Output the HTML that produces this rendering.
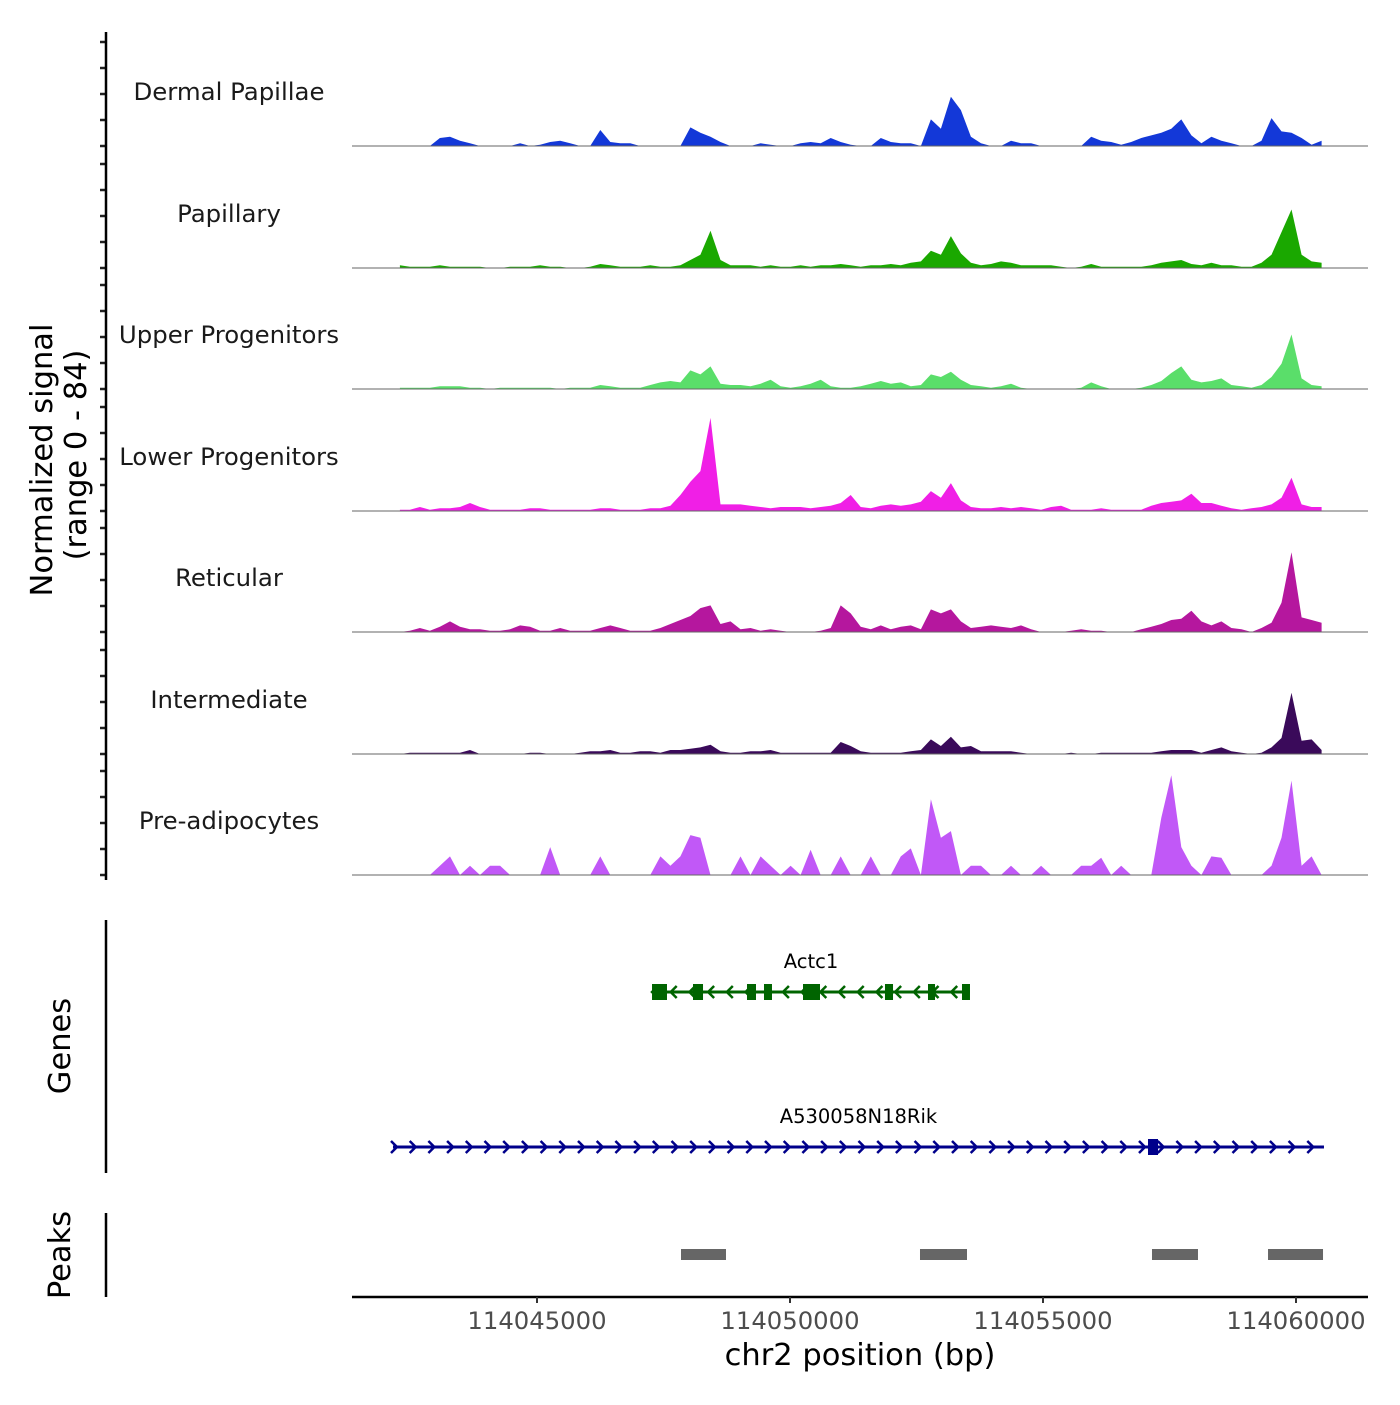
<!DOCTYPE html>
<html><head><meta charset="utf-8"><style>
html,body{margin:0;padding:0;background:#fff;}
svg text{font-family:"DejaVu Sans","Liberation Sans",sans-serif;}
</style></head><body>
<svg id="chart" xmlns="http://www.w3.org/2000/svg" width="1400" height="1400" viewBox="0 0 1400 1400">
<rect width="1400" height="1400" fill="#fff"/>
<g id="tracks"></g>
<g id="genes"></g>
<g id="peaks"></g>
<g id="axes"></g>
<text transform="translate(52,460) rotate(-90)" text-anchor="middle" font-size="30.5" fill="#000">Normalized signal</text>
<text transform="translate(86,455) rotate(-90)" text-anchor="middle" font-size="30.5" fill="#000">(range 0 - 84)</text>
<text transform="translate(70,1046) rotate(-90)" text-anchor="middle" font-size="30.5" fill="#000">Genes</text>
<text transform="translate(70,1255) rotate(-90)" text-anchor="middle" font-size="30.5" fill="#000">Peaks</text>
<text x="860" y="1365" text-anchor="middle" font-size="30.5" fill="#000">chr2 position (bp)</text>
</svg>
<script>
const trackNames = ["Dermal Papillae","Papillary","Upper Progenitors","Lower Progenitors","Reticular","Intermediate","Pre-adipocytes"];
const binStartBp = 114042290;
const binSizeBp = 198;
const dermalPapillae = [0,0,0,0,6,7,4,2,0,0,0,0,2,0,1,3,4,2,0,0,12,3,2,2,0,0,0,0,0,14,10,7,3,0,0,0,2,1,0,0,2,3,2,6,3,1,0,0,6,3,2,2,0,20,13,37,27,7,2,0,0,4,2,2,0,0,0,0,0,7,4,3,1,3,6,8,10,13,20,8,2,7,4,2,0,0,4,21,11,10,6,1,4];
const papillary = [2,1,1,1,2,1,1,1,1,0,0,1,1,1,2,1,1,0,0,1,3,2,1,1,1,2,1,1,2,6,10,28,6,2,2,2,1,2,1,1,2,1,2,2,3,2,1,2,2,3,2,4,5,13,10,24,11,4,2,3,5,4,2,2,2,2,1,0,1,3,1,1,1,1,1,2,4,5,6,3,2,4,2,2,1,1,4,10,27,44,10,5,4];
const upperProgenitors = [1,1,1,1,2,2,2,1,1,0,1,1,1,1,1,1,0,1,1,1,3,2,1,1,1,3,5,6,5,14,11,17,4,3,3,2,4,7,2,1,2,4,7,2,1,1,2,4,6,4,5,2,3,11,9,13,7,3,2,1,2,4,1,0,0,0,0,0,1,5,2,0,0,0,1,3,6,12,17,7,5,6,8,3,2,1,3,9,19,41,8,3,2];
const lowerProgenitors = [1,1,3,1,2,2,3,6,3,1,1,1,1,2,2,1,1,1,1,1,2,2,1,1,1,2,2,4,12,22,30,70,5,5,5,4,3,2,3,3,3,2,3,4,6,12,3,2,4,5,4,5,7,15,10,21,8,3,2,2,3,2,3,2,1,3,4,1,1,1,2,1,1,1,1,4,6,7,8,13,6,6,4,2,1,2,3,5,10,25,5,3,3];
const reticular = [0,1,3,1,4,8,4,2,2,1,1,2,5,4,1,1,3,1,1,1,3,5,3,1,1,1,3,6,9,12,18,20,6,8,2,3,1,2,1,0,0,0,1,3,20,14,4,2,5,2,4,5,2,17,14,17,8,3,4,5,4,3,5,2,0,0,0,1,2,1,1,0,0,0,2,4,6,9,10,16,8,5,8,3,2,0,3,7,22,60,11,9,7];
const intermediate = [0,1,1,1,1,1,1,3,0,0,0,0,0,1,1,0,0,0,1,2,2,3,1,1,2,2,1,3,3,4,5,7,2,1,1,2,2,3,1,1,1,1,1,1,9,6,2,1,1,1,1,2,3,11,6,13,5,6,2,2,2,2,1,0,0,0,0,1,0,0,1,1,1,1,1,1,2,3,3,3,1,3,5,2,1,0,1,5,12,46,10,11,3];
const preAdipocytes = [0,0,0,0,7,14,0,7,0,7,7,0,0,0,0,21,0,0,0,0,14,0,0,0,0,0,14,7,14,30,28,0,0,0,14,0,14,7,0,7,0,19,0,0,14,0,0,14,0,0,14,20,0,57,28,33,0,7,7,0,0,7,0,0,7,0,0,0,7,7,13,0,7,0,0,0,43,75,21,7,0,14,13,0,0,0,0,7,28,71,7,14,0];
const yTicks = [0,20,40,60,80];
const xTicks = [114045000,114050000,114055000,114060000];
const actc1Exons = [[114047273,114047569],[114048083,114048281],[114049150,114049328],[114049486,114049644],[114050257,114050593],[114051877,114052036],[114052727,114052866],[114053399,114053557]];
const actc1Span = [114047273,114053557];
const rikSpan = [114042154,114060553];
const rikExons = [[114057075,114057273]];
const peakRegions = [[114047846,114048735],[114052569,114053498],[114057154,114058063],[114059447,114060534]];

const NS = "http://www.w3.org/2000/svg";
function mk(tag, attrs, parent){const e=document.createElementNS(NS,tag);for(const k in attrs)e.setAttribute(k,attrs[k]);parent.appendChild(e);return e;}
const xPos = bp => 537 + (bp - 114045000) * 0.0506;
const baselines = [146,268,389,511,632,754,875];
const yUnit = 1.33;
const colors = ["#1338d8","#1aa800","#5ade6a","#f01fe6","#b5179e","#3a0a5a","#c158f7"];
const series = [dermalPapillae,papillary,upperProgenitors,lowerProgenitors,reticular,intermediate,preAdipocytes];
const tracksG = document.getElementById('tracks');
const axesG = document.getElementById('axes');

series.forEach((vals, t) => {
  const base = baselines[t];
  const g = mk('g', {}, tracksG);
  
  
  let d = 'M' + xPos(binStartBp).toFixed(1) + ',' + base;
  vals.forEach((v, i) => {
    d += ' L' + xPos(binStartBp + i*binSizeBp).toFixed(1) + ',' + (base - v*yUnit).toFixed(1);
  });
  d += ' L' + xPos(binStartBp + (vals.length-1)*binSizeBp).toFixed(1) + ',' + base + ' Z';
  const a = mk('path', {d: d, fill: colors[t]}, g);
  
  
  const bl = mk('line', {x1:352, x2:1368, y1:base, y2:base, stroke:'#666', 'stroke-width':1}, g);
  
  
  const lb = mk('text', {x:229, y:base-46, 'text-anchor':'middle', 'font-size':24.4, fill:'#1a1a1a'}, g);
  lb.textContent = trackNames[t];
  
  
  yTicks.forEach(tv => {
    const tk = mk('line', {x1:100, x2:106, y1:base - tv*1.3, y2:base - tv*1.3, stroke:'#222', 'stroke-width':2.5}, axesG);
    
    
  });
});
const yl = mk('line', {x1:106, x2:106, y1:32, y2:880, stroke:'#000', 'stroke-width':2.5}, axesG);


const gl = mk('line', {x1:106, x2:106, y1:920, y2:1173, stroke:'#000', 'stroke-width':2.5}, axesG);


const pl = mk('line', {x1:106, x2:106, y1:1213, y2:1297, stroke:'#000', 'stroke-width':2.5}, axesG);


const xl = mk('line', {x1:352, x2:1368, y1:1297, y2:1297, stroke:'#000', 'stroke-width':2.5}, axesG);


xTicks.forEach(v => {
  const tk = mk('line', {x1:xPos(v), x2:xPos(v), y1:1297, y2:1303, stroke:'#333', 'stroke-width':2}, axesG);
  
  
  const tl = mk('text', {x:xPos(v), y:1329, 'text-anchor':'middle', 'font-size':24.3, fill:'#4d4d4d'}, axesG);
  tl.textContent = String(v);
  
  
});

const genesG = document.getElementById('genes');
function drawGene(name, span, exons, y, color, dir){
  const g = mk('g', {}, genesG);
  
  
  const x0 = xPos(span[0]), x1 = xPos(span[1]);
  const ln = mk('line', {x1:x0, x2:x1, y1:y, y2:y, stroke:color, 'stroke-width':3}, g);
  
  
  for (let x = x0 + 2; x <= x1 - 2; x += 18.7) {
    const c = dir > 0 ? `M${x-4},${y-6} L${x+2},${y} L${x-4},${y+6}` : `M${x+4},${y-6} L${x-2},${y} L${x+4},${y+6}`;
    const ch = mk('path', {d:c, fill:'none', stroke:color, 'stroke-width':2.5}, g);
    
    
  }
  exons.forEach(e => {
    const r = mk('rect', {x:xPos(e[0]), y:y-8, width:Math.max(4, xPos(e[1])-xPos(e[0])), height:16, fill:color}, g);
    
    
  });
  const t = mk('text', {x:(x0+x1)/2, y:y-24, 'text-anchor':'middle', 'font-size':19.5, fill:'#000'}, g);
  t.textContent = name;
  
  
}
drawGene('Actc1', actc1Span, actc1Exons, 992, '#006400', -1);
drawGene('A530058N18Rik', rikSpan, rikExons, 1147, '#00008b', 1);

const peaksG = document.getElementById('peaks');
peakRegions.forEach(p => {
  const r = mk('rect', {x:xPos(p[0]), y:1249, width:xPos(p[1])-xPos(p[0]), height:11, fill:'#666'}, peaksG);
  
  
});
</script>
</body></html>
